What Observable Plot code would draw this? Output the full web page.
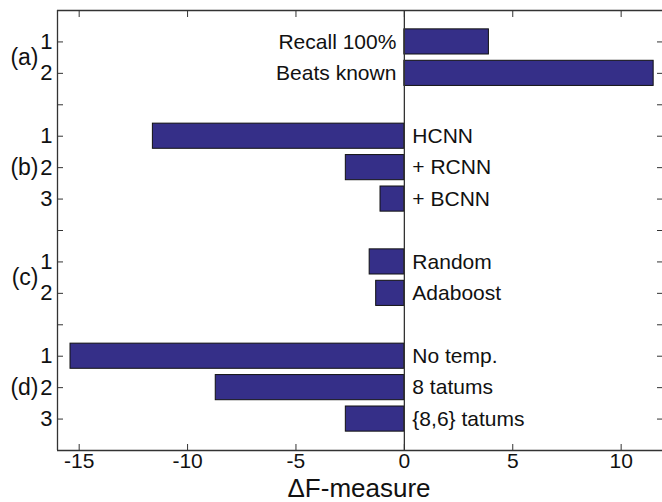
<!DOCTYPE html>
<html><head><meta charset="utf-8">
<script src="https://cdn.jsdelivr.net/npm/d3@7"></script>
<script src="https://cdn.jsdelivr.net/npm/@observablehq/plot@0.6"></script>
<style>body{margin:0;background:#fff}</style>
</head><body><div id="chart"></div>
<script>
const groups = ["(a)", "(b)", "(c)", "(d)"];
const groupOf = ["(a)", "(a)", "(b)", "(b)", "(b)", "(c)", "(c)", "(d)", "(d)", "(d)"];
const rowLabels = ["1", "2", "1", "2", "3", "1", "2", "1", "2", "3"];
const methods = ["Recall 100%", "Beats known", "HCNN", "+ RCNN", "+ BCNN", "Random", "Adaboost", "No temp.", "8 tatums", "{8,6} tatums"];
const deltaF = [3.9, 11.5, -11.6, -2.7, -1.1, -1.6, -1.3, -15.4, -8.7, -2.7];
const xTicks = [-15, -10, -5, 0, 5, 10];

// row positions: consecutive within a group, one empty slot between groups
let p = 0, prev = null;
const positions = groupOf.map(g => { if (prev !== null && g !== prev) p += 1; prev = g; p += 1; return p; });
const maxPos = p;
const rows = methods.map((m, i) => ({method: m, value: deltaF[i], group: groupOf[i], row: rowLabels[i], pos: positions[i]}));
const allTicks = d3.range(1, maxPos + 1);
const labelAt = new Map(rows.map(r => [r.pos, r.row]));
const groupRows = groups.map(g => ({group: g, pos: d3.mean(rows.filter(r => r.group === g), r => r.pos)}));

const axisColor = "#333";
const chart = Plot.plot({
  width: 662, height: 502,
  marginLeft: 57, marginTop: 10, marginBottom: 52, marginRight: 0,
  x: {domain: [-16, 12], range: [57, 664], label: null},
  y: {domain: [maxPos + 1, 0], label: null},
  style: {fontFamily: "'Liberation Sans', Arial, sans-serif", background: "#fff", color: "#111"},
  marks: [
    Plot.rectX(rows, {x1: 0, x2: "value", y1: d => d.pos - 0.4, y2: d => d.pos + 0.4, fill: "#352f88", stroke: "#111", strokeWidth: 1}),
    Plot.ruleX([0], {stroke: axisColor, strokeWidth: 1.3}),
    Plot.ruleX([-16], {stroke: axisColor, strokeWidth: 1.3}),
    Plot.ruleY([0, maxPos + 1], {stroke: axisColor, strokeWidth: 1.3}),
    Plot.axisY(allTicks, {anchor: "left", tickSize: 6, dx: 6, tickFormat: () => "", stroke: axisColor}),
    Plot.axisY(allTicks, {anchor: "right", tickSize: 6, dx: -6, tickFormat: () => "", stroke: axisColor}),
    Plot.axisY(allTicks, {anchor: "left", tickSize: 0, tickPadding: 5, tickFormat: d => labelAt.get(d) ?? "", fontSize: 22, fill: "#111"}),
    Plot.axisX(xTicks, {anchor: "top", tickSize: 6, dy: 6, tickFormat: () => "", stroke: axisColor}),
    Plot.axisX(xTicks, {anchor: "bottom", tickSize: 6, dy: -6, tickFormat: () => "", stroke: axisColor}),
    Plot.axisX(xTicks, {anchor: "bottom", tickSize: 0, tickPadding: 3, tickFormat: d => String(d), fontSize: 21, fill: "#111"}),
    Plot.text(groupRows, {frameAnchor: "left", y: "pos", text: "group", textAnchor: "end", dx: -19, fontSize: 23, fill: "#111"}),
    Plot.text(rows.filter(r => r.value >= 0), {x: 0, y: "pos", text: "method", textAnchor: "end", dx: -8, fontSize: 21, fill: "#111"}),
    Plot.text(rows.filter(r => r.value < 0), {x: 0, y: "pos", text: "method", textAnchor: "start", dx: 8, fontSize: 21, fill: "#111"}),
    Plot.text(["ΔF-measure"], {frameAnchor: "bottom", dx: -1, dy: 46, fontSize: 26, fill: "#111"})
  ]
});
document.getElementById("chart").append(chart);
</script>
</body></html>
